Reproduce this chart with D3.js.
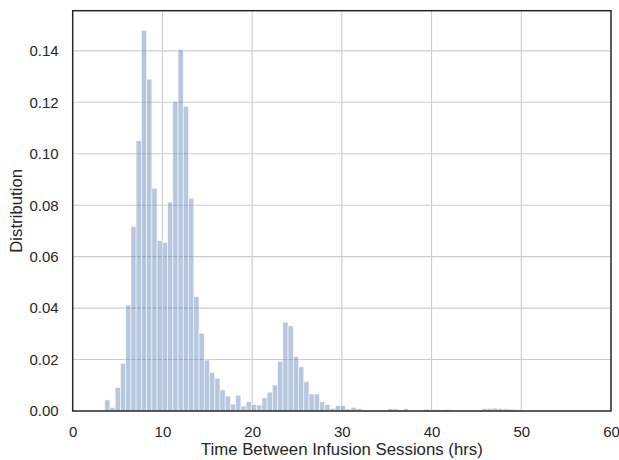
<!DOCTYPE html>
<html>
<head>
<meta charset="utf-8">
<script src="https://cdn.jsdelivr.net/npm/d3@7"></script>
<style>
  body { margin: 0; background: #fff; }
  svg text { font-family: "Liberation Sans", Arial, sans-serif; fill: #262626; }
</style>
</head>
<body>
<svg id="chart" width="619" height="460"></svg>
<script>
// histogram bins (hours) and normalised heights
const binStart = 3.567;
const binWidth = 0.584;
const densities = [
  0.0043, 0.0013, 0.0091, 0.0185, 0.0412, 0.0717, 0.105, 0.148, 0.129, 0.0866,
  0.0662, 0.0655, 0.0812, 0.1203, 0.1404, 0.1184, 0.0827, 0.0445, 0.0302, 0.0198,
  0.0150, 0.0127, 0.0082, 0.0058, 0.0027, 0.0061, 0.0019, 0.0036, 0.0026, 0.0023,
  0.0051, 0.0073, 0.0101, 0.0192, 0.0345, 0.0331, 0.0211, 0.0172, 0.0114, 0.0066,
  0.0066, 0.0036, 0.0026, 0.0010, 0.0021, 0.0021, 0.0008, 0.0014, 0.0009, 0.0004,
  0.0002, 0.0001, 0, 0.0002, 0.0009, 0.0008, 0.0004, 0.0010, 0.0003, 0,
  0.0002, 0.0007, 0.0005, 0.0006, 0.0004, 0.0006, 0.0001, 0.0002, 0.0003, 0.0001,
  0, 0.0003, 0.0009, 0.0010, 0.0011, 0.0009, 0.0008, 0.0007, 0.0005, 0.0004,
  0.0002, 0.0001, 0, 0.0002, 0.0001, 0.0001, 0, 0.0002, 0.0001, 0,
  0.0001, 0, 0.0001, 0.0003, 0.0002
];
const xTicks = [0, 10, 20, 30, 40, 50, 60];
const yTicks = [0, 0.02, 0.04, 0.06, 0.08, 0.10, 0.12, 0.14];
const xDomain = [0, 60];
const yDomain = [0, 0.1556];
const xLabel = "Time Between Infusion Sessions (hrs)";
const yLabel = "Distribution";

const margin = { top: 10.7, right: 8, bottom: 49, left: 72.7 };
const width = 619, height = 460;

const svg = d3.select("#chart");

const x = d3.scaleLinear().domain(xDomain).range([margin.left, width - margin.right]);
const y = d3.scaleLinear().domain(yDomain).range([height - margin.bottom, margin.top]);

const bins = densities.map((d, i) => ({
  x0: binStart + i * binWidth,
  x1: binStart + (i + 1) * binWidth,
  value: d
}));

// grid lines
const grid = svg.append("g").attr("stroke", "#cccccc").attr("stroke-width", 1.1);
grid.selectAll("line.v")
  .data(xTicks.slice(1, -1))
  .enter()
  .append("line")
  .attr("x1", d => x(d)).attr("x2", d => x(d))
  .attr("y1", y.range()[1]).attr("y2", y.range()[0]);
grid.selectAll("line.h")
  .data(yTicks.slice(1))
  .enter()
  .append("line")
  .attr("x1", x.range()[0]).attr("x2", x.range()[1])
  .attr("y1", d => y(d)).attr("y2", d => y(d));

// bars
svg.append("g")
  .selectAll("rect")
  .data(bins)
  .enter()
  .append("rect")
  .attr("x", d => x(d.x0))
  .attr("width", d => x(d.x1) - x(d.x0))
  .attr("y", d => y(d.value))
  .attr("height", d => y(0) - y(d.value))
  .attr("fill", "#4c72b0")
  .attr("fill-opacity", 0.4)
  .attr("stroke", "#fff")
  .attr("stroke-width", 0.8)
  .attr("stroke-opacity", 0.7);

// axes without tick marks
const xAxis = svg.append("g")
  .attr("transform", `translate(0, ${y(0)})`)
  .call(d3.axisBottom(x).tickValues(xTicks).tickSize(0).tickPadding(15).tickFormat(d3.format("d")));
const yAxis = svg.append("g")
  .attr("transform", `translate(${x(0)}, 0)`)
  .call(d3.axisLeft(y).tickValues(yTicks).tickSize(0).tickPadding(14).tickFormat(d3.format(".2f")));

[xAxis, yAxis].forEach(a => {
  a.select(".domain").remove();
  a.selectAll("text").attr("font-size", 15).attr("fill", "#262626");
});

// frame
svg.append("rect")
  .attr("x", x.range()[0])
  .attr("y", y.range()[1])
  .attr("width", x.range()[1] - x.range()[0])
  .attr("height", y.range()[0] - y.range()[1])
  .attr("fill", "none")
  .attr("stroke", "#262626")
  .attr("stroke-width", 1.5);

svg.append("text")
  .attr("x", (x.range()[0] + x.range()[1]) / 2)
  .attr("y", 455)
  .attr("text-anchor", "middle")
  .attr("font-size", 16.8)
  .text(xLabel);

svg.append("text")
  .attr("transform", `translate(22, ${(y.range()[0] + y.range()[1]) / 2}) rotate(-90)`)
  .attr("text-anchor", "middle")
  .attr("font-size", 16.8)
  .text(yLabel);
</script>
</body>
</html>
